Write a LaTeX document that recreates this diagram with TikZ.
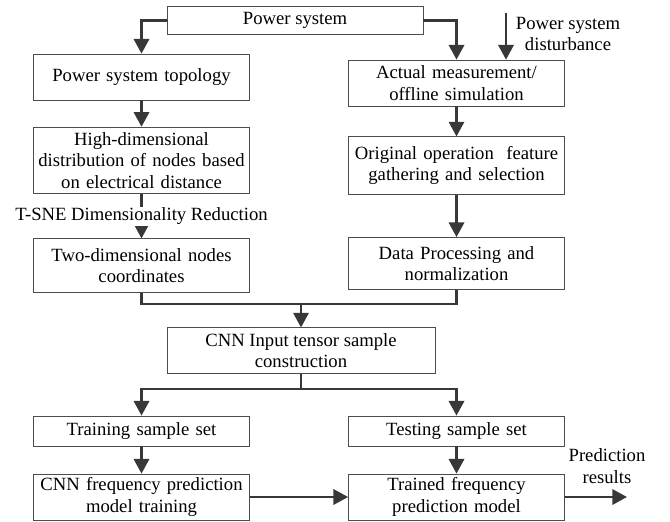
\documentclass[tikz,border=0pt]{standalone}
\usepackage{fontspec}
\setmainfont{Liberation Serif}
\usetikzlibrary{arrows.meta}
\tikzset{
    box/.style={draw=black!70,line width=0.6pt,inner sep=1pt,align=center,
        font=\fontsize{14}{16}\selectfont},
    leftbox/.style={box,minimum width=162pt,text width=158pt},
    rightbox/.style={box,minimum width=162pt,text width=158pt},
    link/.style={draw=black!78,line width=1.8pt},
    flow/.style={link,-{Triangle[length=11pt,width=11.5pt]}},
    note/.style={align=center,font=\fontsize{14}{16}\selectfont,inner sep=1pt}
}
\begin{document}
\begin{tikzpicture}[x=0.75pt,y=-0.75pt]
\useasboundingbox (0,0) rectangle (670,521);
% top
\node[box,minimum width=192pt,minimum height=21.5pt] (ps) at (295,20.5) {Power system};
\node[note] (distlabel) at (568,34) {Power system\\disturbance};
\coordinate (dist) at (506,13);
% left column
\node[leftbox,minimum height=34.5pt] (topo) at (141.5,77) {Power system topology};
\node[leftbox,minimum height=50pt] (high) at (141.5,160.5) {High-dimensional\\distribution of nodes based\\on electrical distance};
\node[leftbox,minimum height=40pt] (two) at (141.5,265.5) {Two-dimensional nodes\\coordinates};
% right column
\node[rightbox,minimum height=34.5pt] (meas) at (456.5,83) {Actual measurement/\\offline simulation};
\node[rightbox,minimum height=43pt] (orig) at (456.5,165.5) {Original operation~ feature\\gathering and selection};
\node[rightbox,minimum height=39pt] (data) at (456.5,263.5) {Data Processing and\\normalization};
% middle
\node[box,minimum width=201pt,minimum height=34pt] (cnn) at (301,350.5) {CNN Input tensor sample\\construction};
\coordinate (merge) at (301,304);
\coordinate (split) at (301,389);
% bottom
\node[leftbox,minimum height=22.5pt] (train) at (141.5,431) {Training sample set};
\node[rightbox,minimum height=22.5pt] (test) at (456.5,431) {Testing sample set};
\node[leftbox,minimum height=34.5pt] (cnnmod) at (141.5,497) {CNN frequency prediction\\model training};
\node[rightbox,minimum height=34.5pt] (trained) at (456.5,497) {Trained frequency\\prediction model};
\node[note] (predlabel) at (607,466) {Prediction\\results};
\coordinate (out) at (627,497);
% connectors
\draw[flow] (ps.west) -| (topo.north);
\draw[flow] (ps.east) -| (meas.north);
\draw[flow] (dist) -- (dist |- meas.north);
\draw[flow] (topo) -- (high);
\draw[flow] (high) -- (two) node[note,midway,fill=white] (tsne) {T-SNE Dimensionality Reduction};
\draw[flow] (meas) -- (orig);
\draw[flow] (orig) -- (data);
\draw[link] (two.south) |- (merge) -| (data.south);
\draw[flow] (merge) -- (cnn.north);
\draw[link] (cnn.south) -- (split);
\draw[flow] (split) -| (train.north);
\draw[flow] (split) -| (test.north);
\draw[flow] (train) -- (cnnmod);
\draw[flow] (test) -- (trained);
\draw[flow] (cnnmod) -- (trained);
\draw[flow] (trained) -- (out);
\end{tikzpicture}
\end{document}
